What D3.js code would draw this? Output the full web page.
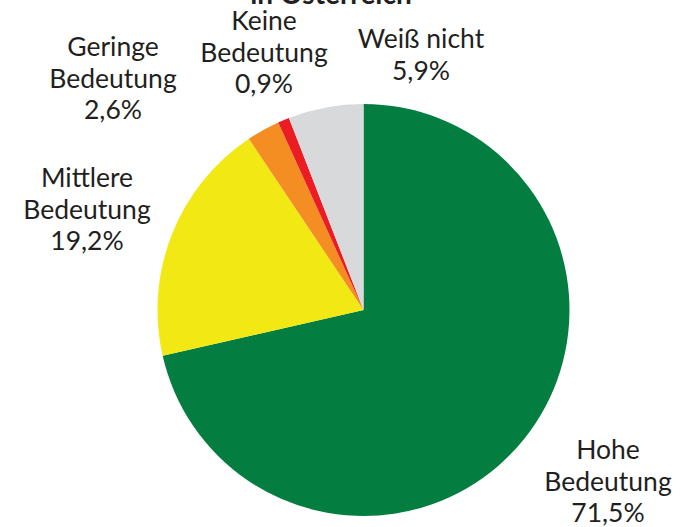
<!DOCTYPE html>
<html>
<head>
<meta charset="utf-8">
<script src="https://cdn.jsdelivr.net/npm/d3@7"></script>
<style>
  body { margin: 0; background: #fff; }
  svg text { font-family: Lato, "Open Sans", sans-serif; fill: #231f20; }
</style>
</head>
<body>
<svg id="vis" width="681" height="527"></svg>
<script>
// data, clockwise from 12 o'clock
var categories = ["Hohe Bedeutung", "Mittlere Bedeutung", "Geringe Bedeutung", "Keine Bedeutung", "Weiß nicht"];
var values = [71.5, 19.2, 2.6, 0.9, 5.9];
var valueLabels = ["71,5%", "19,2%", "2,6%", "0,9%", "5,9%"];
var labelLines = [["Hohe", "Bedeutung"], ["Mittlere", "Bedeutung"], ["Geringe", "Bedeutung"], ["Keine", "Bedeutung"], ["Weiß nicht"]];
var colors = ["#037e40", "#f2e914", "#f48e22", "#ec1c24", "#d8d9db"];
var titleText = "in Österreich";

// label anchor (centre x, first baseline)
var labelPos = [[608, 459], [87, 187], [113, 56], [264, 30], [421, 48]];

var _vis = d3.select("#vis");
var cx = 363.5, cy = 310, radius = 206;

var pie = d3.pie().sort(null).value(function(d) { return d; });
var arc = d3.arc().innerRadius(0).outerRadius(radius);

var g = _vis.append("g").attr("transform", "translate(" + cx + "," + cy + ")");
g.selectAll("path")
    .data(pie(values))
    .enter()
    .append("path")
    .attr("d", arc)
    .attr("fill", function(d, i) { return colors[i]; });

// title, mostly cut off at top
_vis.append("text")
    .attr("x", 331)
    .attr("y", 4)
    .attr("text-anchor", "middle")
    .style("font-size", "28px")
    .style("font-weight", "bold")
    .text(titleText);

var lineH = 31.5;
var labels = _vis.selectAll("g.lbl")
    .data(categories)
    .enter()
    .append("g")
    .attr("class", "lbl");

labels.each(function(d, i) {
    var lines = labelLines[i].concat([valueLabels[i]]);
    var t = d3.select(this).append("text")
        .attr("text-anchor", "middle")
        .style("font-size", "26.5px");
    lines.forEach(function(l, j) {
        t.append("tspan")
            .attr("x", labelPos[i][0])
            .attr("y", labelPos[i][1] + j * lineH)
            .text(l);
    });
});
</script>
</body>
</html>
